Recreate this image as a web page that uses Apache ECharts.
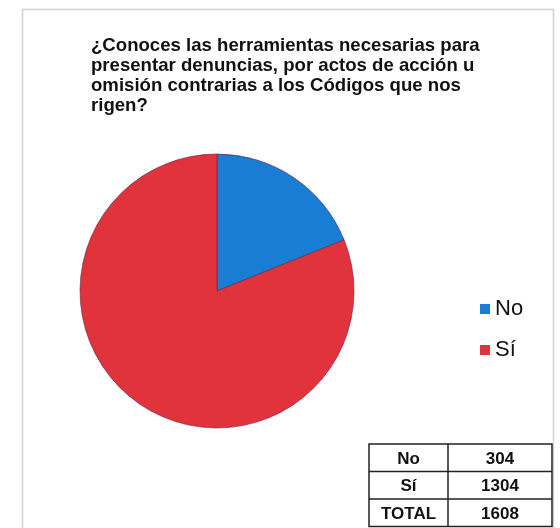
<!DOCTYPE html>
<html>
<head>
<meta charset="utf-8">
<script src="https://cdn.jsdelivr.net/npm/echarts@6/dist/echarts.min.js"></script>
<style>html,body{margin:0;padding:0;background:#fff;}#c{width:560px;height:528px;}</style>
</head>
<body>
<div id="c"></div>
<script>
var titleText = '¿Conoces las herramientas necesarias para\npresentar denuncias, por actos de acción u\nomisión contrarias a los Códigos que nos\nrigen?';
var categories = ['No', 'Sí'];
var values = [304, 1304];
var totalLabel = 'TOTAL';
var totalValue = 1608;
var colors = ['#187dd3', '#e0333b'];

var chart = echarts.init(document.getElementById('c'), null, {renderer: 'canvas'});

var FONT = '"Liberation Sans", Arial, sans-serif';
var tblLeft = 369, tblMid = 448, tblRight = 552, tblTop = 444, rowH = 27.5;
var rows = categories.map(function (c, i) { return [c, String(values[i])]; });
rows.push([totalLabel, String(totalValue)]);
var g = [];
g.push({type: 'polyline', shape: {points: [[22.5, 540], [22.5, 9.5], [553.5, 9.5], [553.5, 540]]},
  style: {stroke: '#d2d2d2', fill: null, lineWidth: 1.5}, silent: true});
var tblBottom = tblTop + rowH * rows.length;
g.push({type: 'rect', shape: {x: tblLeft, y: tblTop, width: tblRight - tblLeft, height: tblBottom - tblTop},
  style: {stroke: '#222', fill: '#fff', lineWidth: 1.5}});
g.push({type: 'line', shape: {x1: tblMid, y1: tblTop, x2: tblMid, y2: tblBottom}, style: {stroke: '#222', lineWidth: 1.5}});
rows.forEach(function (r, i) {
  if (i > 0) g.push({type: 'line', shape: {x1: tblLeft, y1: tblTop + rowH * i, x2: tblRight, y2: tblTop + rowH * i}, style: {stroke: '#222', lineWidth: 1.5}});
  var cy = tblTop + rowH * i + rowH / 2 + 1.5;
  g.push({type: 'text', x: (tblLeft + tblMid) / 2, y: cy, style: {text: r[0], textAlign: 'center', textVerticalAlign: 'middle', font: 'bold 17px ' + FONT, fill: '#111'}});
  g.push({type: 'text', x: (tblMid + tblRight) / 2, y: cy, style: {text: r[1], textAlign: 'center', textVerticalAlign: 'middle', font: 'bold 17px ' + FONT, fill: '#111'}});
});

chart.setOption({
  backgroundColor: '#fff',
  animation: false,
  color: colors,
  title: {
    text: titleText, left: 86, top: 31,
    textStyle: {fontFamily: FONT, fontWeight: 'bold', fontSize: 18.6, lineHeight: 20, color: '#111'}
  },
  legend: {
    orient: 'vertical', left: 475, top: 293, itemWidth: 10, itemHeight: 10, itemGap: 19,
    icon: 'rect', data: categories,
    itemStyle: {borderWidth: 0},
    textStyle: {fontFamily: FONT, fontSize: 22, color: '#111'}
  },
  graphic: g,
  series: [{
    type: 'pie', center: [217, 291], radius: 137, startAngle: 90, clockwise: true,
    label: {show: false}, labelLine: {show: false},
    itemStyle: {borderColor: 'rgba(110,30,70,0.75)', borderWidth: 0.8},
    data: categories.map(function (c, i) { return {name: c, value: values[i]}; })
  }]
});
</script>
</body>
</html>
